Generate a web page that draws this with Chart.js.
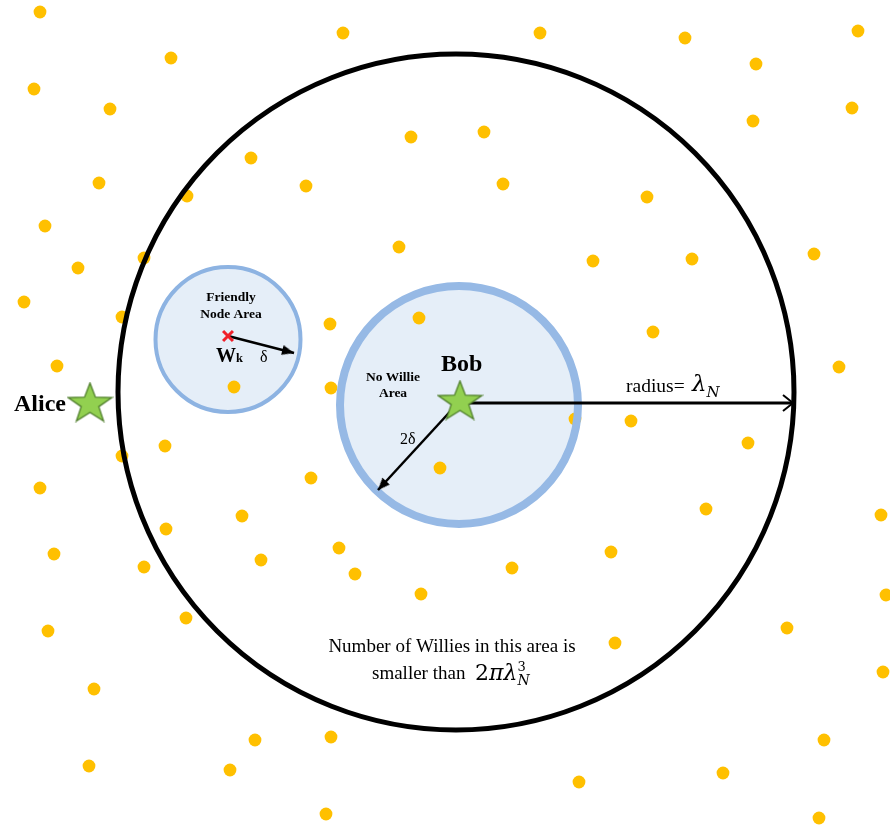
<!DOCTYPE html>
<html>
<head>
<meta charset="utf-8">
<script src="https://cdn.jsdelivr.net/npm/chart.js@4.4.1/dist/chart.umd.min.js"></script>
<style>
  html, body { margin: 0; padding: 0; background: #fff; }
  canvas { display: block; }
</style>
</head>
<body>
<canvas id="my-chart" width="890" height="832"></canvas>
<script>
"use strict";

// willie positions (x, y in picture units, y grows downward)
const willieX = [40, 171, 343, 540, 685, 858, 756, 34, 110, 411, 484, 251, 753, 852, 99, 306, 503, 647, 187, 45,
  399, 593, 692, 814, 78, 144, 24, 419, 330, 653, 122, 57, 839, 234, 331, 631, 748, 165, 122, 440,
  311, 40, 706, 881, 242, 166, 339, 611, 54, 261, 355, 512, 144, 886, 421, 186, 48, 787, 615, 883,
  94, 255, 331, 824, 89, 230, 723, 579, 326, 819, 575];
const willieY = [12, 58, 33, 33, 38, 31, 64, 89, 109, 137, 132, 158, 121, 108, 183, 186, 184, 197, 196, 226,
  247, 261, 259, 254, 268, 258, 302, 318, 324, 332, 317, 366, 367, 387, 388, 421, 443, 446, 456, 468,
  478, 488, 509, 515, 516, 529, 548, 552, 554, 560, 574, 568, 567, 595, 594, 618, 631, 628, 643, 672,
  689, 740, 737, 740, 766, 770, 773, 782, 814, 818, 419];

// areas: coverage circle, no-willie area round Bob, friendly node area round Wk
const areaNames = ["Coverage", "No Willie Area", "Friendly Node Area"];
const areaX = [456, 459, 228];
const areaY = [392, 405, 339.5];
const areaR = [338, 119, 72.5];

// Alice and Bob
const nodeNames = ["Alice", "Bob"];
const nodeX = [90, 460];
const nodeY = [402, 400];

// friendly node Wk
const friendX = [228];
const friendY = [336];

// arrows: radius, 2 delta, delta
const arrowFromX = [458, 458, 228];
const arrowFromY = [403, 403, 336];
const arrowToX = [793, 378, 294];
const arrowToY = [403, 490, 353];

const arrowWidths = [3, 2.5, 2.5];
const arrowHeadOpen = [true, false, false];

function pxLen(chart, r) {
  const x = chart.scales.x;
  return x.getPixelForValue(r) - x.getPixelForValue(0);
}

function arrowAngle(chart, i) {
  const sx = chart.scales.x, sy = chart.scales.y;
  const dx = sx.getPixelForValue(arrowToX[i]) - sx.getPixelForValue(arrowFromX[i]);
  const dy = sy.getPixelForValue(arrowToY[i]) - sy.getPixelForValue(arrowFromY[i]);
  return Math.atan2(dy, dx) * 180 / Math.PI;
}

// star image used as point style
function makeStar(w, h) {
  const c = document.createElement("canvas");
  c.width = w;
  c.height = h;
  const g = c.getContext("2d");
  const R = 1, r = 0.4;
  const pts = [];
  for (let i = 0; i < 10; i++) {
    const a = -Math.PI / 2 + i * Math.PI / 5;
    const rr = i % 2 ? r : R;
    pts.push([rr * Math.cos(a), rr * Math.sin(a)]);
  }
  // star bbox: x in [-0.951, 0.951], y in [-1, 0.809]
  const sxs = (w - 3) / 1.902, sys = (h - 3) / 1.809;
  g.beginPath();
  pts.forEach(function (p, i) {
    const px = w / 2 + p[0] * sxs;
    const py = 1.5 + (p[1] + 1) * sys;
    if (i === 0) g.moveTo(px, py); else g.lineTo(px, py);
  });
  g.closePath();
  g.fillStyle = "#92D050";
  g.fill();
  g.lineWidth = 1.3;
  g.strokeStyle = "#4E7D2B";
  g.stroke();
  return c;
}

// arrow head, tip placed at image centre so it lands on the arrow end
function makeHead(len, half, open, lw) {
  const c = document.createElement("canvas");
  c.width = len * 2 + 6;
  c.height = half * 2 + 6;
  const g = c.getContext("2d");
  const tx = c.width / 2, ty = c.height / 2;
  g.beginPath();
  g.moveTo(tx - len, ty - half);
  g.lineTo(tx, ty);
  g.lineTo(tx - len, ty + half);
  if (open) {
    g.lineWidth = lw;
    g.lineJoin = "miter";
    g.strokeStyle = "#000";
    g.stroke();
  } else {
    g.closePath();
    g.fillStyle = "#000";
    g.fill();
  }
  return c;
}

const starImg = makeStar(47, 41);
const openHead = makeHead(10, 8, true, 2);
const filledHead = makeHead(12, 5, false, 0);

const datasets = [];

// filled areas (below willies)
datasets.push({
  label: "area fill",
  data: areaX.map((x, i) => ({ x: x, y: areaY[i] })),
  pointRadius: (c) => pxLen(c.chart, areaR[c.dataIndex]),
  pointBackgroundColor: ["rgba(0,0,0,0)", "#E5EEF8", "#E5EEF8"],
  pointBorderWidth: 0,
  order: 7,
});

datasets.push({
  label: "Willies",
  data: willieX.map((x, i) => ({ x: x, y: willieY[i] })),
  pointRadius: 6.4,
  pointBackgroundColor: "#FFC000",
  pointBorderWidth: 0,
  order: 6,
});

// area borders
datasets.push({
  label: "area ring",
  data: areaX.map((x, i) => ({ x: x, y: areaY[i] })),
  pointRadius: (c) => pxLen(c.chart, areaR[c.dataIndex]),
  pointBackgroundColor: "rgba(0,0,0,0)",
  pointBorderColor: ["#000000", "#96B9E5", "#8DB3E2"],
  pointBorderWidth: [5, 8, 4],
  order: 5,
});

// arrow shafts
for (let i = 0; i < arrowFromX.length; i++) {
  datasets.push({
    label: "arrow " + i,
    data: [{ x: arrowFromX[i], y: arrowFromY[i] }, { x: arrowToX[i], y: arrowToY[i] }],
    showLine: true,
    borderColor: "#000",
    borderWidth: arrowWidths[i],
    pointRadius: 0,
    order: 4,
  });
}

// arrow heads
datasets.push({
  label: "arrow heads",
  data: arrowToX.map((x, i) => ({ x: x, y: arrowToY[i] })),
  pointStyle: arrowHeadOpen.map((o) => (o ? openHead : filledHead)),
  pointRotation: (c) => arrowAngle(c.chart, c.dataIndex),
  order: 3,
});

datasets.push({
  label: "nodes",
  data: nodeX.map((x, i) => ({ x: x, y: nodeY[i] })),
  pointStyle: starImg,
  order: 2,
});

datasets.push({
  label: "Wk",
  data: friendX.map((x, i) => ({ x: x, y: friendY[i] })),
  pointStyle: "crossRot",
  pointRadius: 7,
  pointBorderColor: "#F0202A",
  pointBorderWidth: 3,
  order: 1,
});

// text runs: each line is drawn left to right from its start point
const SERIF = '"Liberation Serif", "Times New Roman", serif';
const MATH = '"DejaVu Serif", serif';
const notes = [
  { x: 66, y: 411, align: "right", runs: [{ t: "Alice", f: "bold 24px " + SERIF }] },
  { x: 441, y: 371, runs: [{ t: "Bob", f: "bold 24px " + SERIF }] },
  { x: 231, y: 301, align: "center", runs: [{ t: "Friendly", f: "bold 13.5px " + SERIF }] },
  { x: 231, y: 318, align: "center", runs: [{ t: "Node Area", f: "bold 13.5px " + SERIF }] },
  { x: 216, y: 362, runs: [{ t: "W", f: "bold 20px " + SERIF }, { t: "k", f: "bold 12.5px " + SERIF }] },
  { x: 260, y: 362, runs: [{ t: "δ", f: "16px " + SERIF }] },
  { x: 393, y: 381, align: "center", runs: [{ t: "No Willie", f: "bold 13.5px " + SERIF }] },
  { x: 393, y: 397, align: "center", runs: [{ t: "Area", f: "bold 13.5px " + SERIF }] },
  { x: 400, y: 444, runs: [{ t: "2δ", f: "16px " + SERIF }] },
  { x: 626, y: 392, runs: [{ t: "radius=", f: "19.5px " + SERIF }] },
  { x: 692, y: 391, runs: [
    { t: "λ", f: "italic 23px " + MATH },
    { t: "N", f: "italic 15px " + MATH, dy: 6 },
  ] },
  { x: 452, y: 652, align: "center", runs: [{ t: "Number of Willies in this area is", f: "19px " + SERIF }] },
  { x: 372, y: 679, runs: [{ t: "smaller than", f: "19px " + SERIF }] },
  { x: 475, y: 680, runs: [
    { t: "2", f: "22px " + MATH },
    { t: "π", f: "italic 22px " + MATH },
    { t: "λ", f: "italic 22px " + MATH },
    { t: "3", f: "13px " + MATH, dy: -9, keep: true },
    { t: "N", f: "italic 14px " + MATH, dy: 5 },
  ] },
];

const notePlugin = {
  id: "notes",
  afterDatasetsDraw(chart) {
    const ctx = chart.ctx;
    const sx = chart.scales.x, sy = chart.scales.y;
    ctx.save();
    ctx.fillStyle = "#000";
    ctx.textBaseline = "alphabetic";
    ctx.textAlign = "left";
    notes.forEach(function (n) {
      let total = 0;
      n.runs.forEach(function (r) {
        ctx.font = r.f;
        if (!r.keep) total += ctx.measureText(r.t).width + (r.dx || 0);
      });
      let x = sx.getPixelForValue(n.x);
      const y = sy.getPixelForValue(n.y);
      if (n.align === "center") x -= total / 2;
      if (n.align === "right") x -= total;
      n.runs.forEach(function (r) {
        ctx.font = r.f;
        x += r.dx || 0;
        ctx.fillText(r.t, x, y + (r.dy || 0));
        if (!r.keep) x += ctx.measureText(r.t).width;
      });
    });
    ctx.restore();
  },
};

new Chart(document.getElementById("my-chart"), {
  type: "scatter",
  data: { datasets: datasets },
  options: {
    responsive: false,
    animation: false,
    events: [],
    layout: { padding: 0, autoPadding: false },
    plugins: { legend: { display: false }, tooltip: { enabled: false } },
    scales: {
      x: { type: "linear", min: 0, max: 890, display: false },
      y: { type: "linear", min: 0, max: 832, reverse: true, display: false },
    },
  },
  plugins: [notePlugin],
});
</script>
</body>
</html>
